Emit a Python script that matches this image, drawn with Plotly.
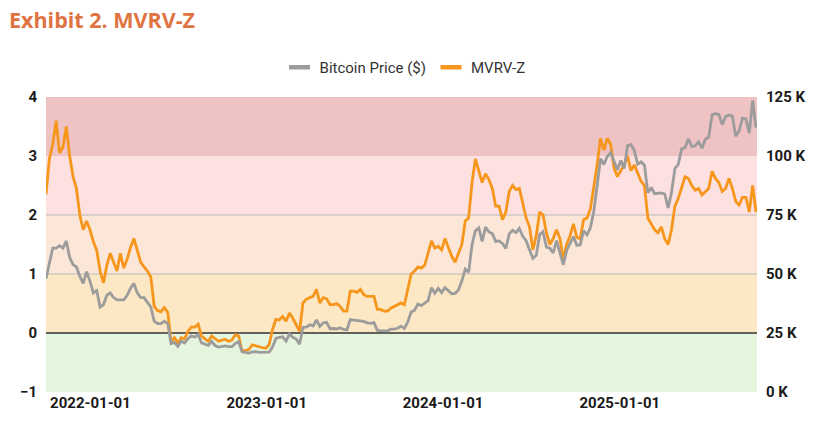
import pandas as pd
import plotly.graph_objects as go

# ---- data (weekly) ----
dates = pd.date_range("2021-10-01", "2025-10-10", freq="7D")

btc_price_k = [
    # 2021 Q4
    48, 54, 61, 61, 62, 61, 64, 57, 54, 53, 49, 46, 51, 47,
    # 2022
    42, 43, 36, 37, 41, 42, 40, 39, 39, 39, 41, 44, 46, 42, 40, 40, 38,
    36, 30, 29, 29, 30, 29, 20.5, 21, 19.3, 21.6, 20.8, 22.6, 23.8,
    23.2, 24.4, 20.8, 20.2, 19.8, 21.4, 19.7, 19.0, 19.4, 19.5, 19.2, 19.2, 20.6,
    21.3, 17.0, 16.7, 16.5, 17.0, 17.1, 16.8, 16.8, 16.6,
    # 2023
    16.9, 19.0, 22.7, 23.1, 23.4, 21.6, 24.6, 23.2, 22.4, 20.2, 27.4, 27.5, 28.5,
    28.0, 30.5, 27.8, 29.3, 29.5, 26.8, 26.9, 26.7, 27.2, 26.5, 26.3, 30.7, 30.5,
    30.3, 30.3, 29.9, 29.3, 29.1, 29.4, 26.1, 26.0, 25.9, 25.9, 26.6, 26.6, 27.0,
    27.9, 26.9, 29.7, 33.9, 34.7, 37.3, 36.6, 37.7, 38.7, 44.2, 41.9, 43.9, 42.1,
    # 2024
    44.2, 42.8, 41.6, 41.8, 43.2, 47.1, 52.1, 50.7, 62.4, 68.3, 69.5, 63.8, 69.9,
    67.8, 67.1, 63.8, 64.0, 62.9, 60.8, 67.0, 68.5, 67.5, 69.3, 66.0, 64.1, 60.3,
    56.6, 57.9, 66.7, 67.9, 61.4, 60.9, 58.9, 64.1, 59.1, 53.9, 60.0, 63.2, 65.8,
    62.1, 62.4, 68.4, 66.6, 69.5, 76.5, 87.5, 98.9, 96.4, 99.8, 101.4, 97.8, 94.2,
    # 2025
    98.1, 94.7, 104.4, 104.8, 102.4, 96.5, 97.5, 96.1, 84.4, 86.7, 84.0, 84.2, 84.4,
    83.9, 78.0, 84.5, 94.7, 96.5, 103.0, 103.5, 107.3, 104.0, 104.3, 106.0, 103.3,
    107.1, 108.0, 117.5, 117.9, 117.6, 113.3, 116.7, 117.4, 116.9, 108.4, 110.7,
    116.0, 115.7, 109.7, 123.5, 112.0,
]

mvrv_z = [
    # 2021 Q4
    2.35, 2.95, 3.2, 3.6, 3.05, 3.15, 3.5, 3.0, 2.65, 2.45, 2.0, 1.75, 1.9, 1.75,
    # 2022
    1.55, 1.4, 1.05, 0.85, 1.15, 1.35, 1.2, 1.05, 1.35, 1.1, 1.25, 1.45,
    1.6, 1.4, 1.2, 1.12, 1.05, 0.95, 0.45, 0.38, 0.36, 0.43, 0.35, -0.15, -0.08,
    -0.17, -0.08, -0.1, 0.03, 0.1, 0.1, 0.15, -0.05, -0.1, -0.14, -0.05, -0.1, -0.14,
    -0.12, -0.11, -0.14, -0.12, -0.03, -0.05, -0.31, -0.3, -0.28, -0.2, -0.22,
    -0.24, -0.25, -0.26,
    # 2023
    -0.2, 0.06, 0.23, 0.22, 0.28, 0.2, 0.34, 0.25, 0.14, 0.03, 0.51, 0.57, 0.6,
    0.62, 0.74, 0.51, 0.6, 0.58, 0.48, 0.48, 0.5, 0.45, 0.37, 0.37, 0.71, 0.71,
    0.69, 0.74, 0.65, 0.62, 0.62, 0.62, 0.4, 0.4, 0.37, 0.37, 0.42, 0.45, 0.48,
    0.51, 0.48, 0.75, 1.0, 1.05, 1.12, 1.1, 1.15, 1.35, 1.56, 1.44, 1.47, 1.41,
    # 2024
    1.6, 1.45, 1.3, 1.2, 1.36, 1.5, 1.9, 1.95, 2.55, 2.95, 2.75, 2.55, 2.7,
    2.6, 2.45, 2.15, 2.15, 1.92, 2.05, 2.4, 2.5, 2.43, 2.45, 2.21, 1.95, 1.8,
    1.41, 1.65, 2.05, 2.0, 1.7, 1.5, 1.6, 1.75, 1.6, 1.25, 1.5, 1.65, 1.85,
    1.62, 1.6, 1.92, 1.95, 2.1, 2.45, 2.85, 3.3, 3.1, 3.3, 3.2, 2.8, 2.65,
    # 2025
    2.75, 2.85, 3.0, 2.75, 2.85, 2.7, 2.57, 2.5, 1.95, 1.85, 1.75, 1.7, 1.8,
    1.6, 1.5, 1.75, 2.15, 2.28, 2.45, 2.65, 2.62, 2.5, 2.42, 2.45, 2.34, 2.4,
    2.45, 2.74, 2.62, 2.55, 2.4, 2.45, 2.62, 2.45, 2.23, 2.17, 2.3, 2.3, 2.05,
    2.5, 2.05,
]

x_tick_dates = ["2022-01-01", "2023-01-01", "2024-01-01", "2025-01-01"]
left_ticks = [-1, 0, 1, 2, 3, 4]
right_ticks = [0, 25, 50, 75, 100, 125]
right_tick_text = ["0 K", "25 K", "50 K", "75 K", "100 K", "125 K"]

# zone bands on the MVRV-Z axis: (low, high, colour)
band_low = [-1, 0, 1, 2, 3]
band_high = [0, 1, 2, 3, 4]
band_colors = ["#e6f6de", "#fce8c4", "#fce6d7", "#fde1e1", "#efc3c3"]

GRAY = "#9c9c9c"
ORANGE = "#f7961c"
FONT = "Roboto, Arial, sans-serif"

# ---- figure ----
fig = go.Figure()
fig.add_trace(go.Scatter(
    x=dates, y=btc_price_k, name="Bitcoin Price ($)", yaxis="y2",
    mode="lines", line=dict(color=GRAY, width=2.8), showlegend=False,
))
fig.add_trace(go.Scatter(
    x=dates, y=mvrv_z, name="MVRV-Z", yaxis="y",
    mode="lines", line=dict(color=ORANGE, width=2.8), showlegend=False,
))
# legend entries (short thick bar symbols like the reference)
for nm, col in [("Bitcoin Price ($)", GRAY), ("MVRV-Z", ORANGE)]:
    fig.add_trace(go.Scatter(
        x=[None], y=[None], name=nm, mode="markers",
        marker=dict(symbol="line-ew", size=15, color=col,
                    line=dict(color=col, width=4.5)),
        showlegend=True,
    ))

shapes = []
for lo, hi, col in zip(band_low, band_high, band_colors):
    shapes.append(dict(type="rect", xref="paper", yref="y", x0=0, x1=1, y0=lo, y1=hi,
                       fillcolor=col, line=dict(width=0), layer="below"))
for gy in [1, 2]:
    shapes.append(dict(type="line", xref="paper", yref="y", x0=0, x1=1, y0=gy, y1=gy,
                       line=dict(color="#b9b9b9", width=1), layer="below"))
shapes.append(dict(type="line", xref="paper", yref="y", x0=0, x1=1, y0=0, y1=0,
                   line=dict(color="#333333", width=1.5), layer="below"))

tick_font = dict(family=FONT, size=15, color="#1a1a1a", weight="bold")

fig.update_layout(
    width=829, height=434,
    margin=dict(l=46, r=72, t=97, b=42),
    paper_bgcolor="white", plot_bgcolor="white",
    shapes=shapes,
    showlegend=True,
    legend=dict(orientation="h", x=0.505, xanchor="center", y=1.1, yanchor="middle",
                font=dict(family=FONT, size=15, color="#333333"),
                itemwidth=30, bgcolor="rgba(0,0,0,0)"),
    xaxis=dict(type="date", range=["2021-10-01", "2025-10-12"],
               tickvals=x_tick_dates, ticktext=x_tick_dates,
               showgrid=False, zeroline=False, showline=False, ticks="",
               tickfont=tick_font),
    yaxis=dict(range=[-1, 4], tickvals=left_ticks, showgrid=False, zeroline=False,
               showline=False, ticks="", tickfont=tick_font, ticklabelstandoff=8),
    yaxis2=dict(range=[0, 125], tickvals=right_ticks, ticktext=right_tick_text,
                overlaying="y", side="right", showgrid=False, zeroline=False,
                showline=False, ticks="", tickfont=tick_font, ticklabelstandoff=8),
    annotations=[dict(text="<b>Exhibit 2. MVRV-Z</b>", xref="paper", yref="paper",
                      x=(7 - 46) / 711, y=1 + (97 - 20) / 295, xanchor="left",
                      yanchor="middle", showarrow=False,
                      font=dict(family="Open Sans, Roboto, sans-serif", size=21.5,
                                color="#df7443"))],
)

fig.write_html("out.html")
